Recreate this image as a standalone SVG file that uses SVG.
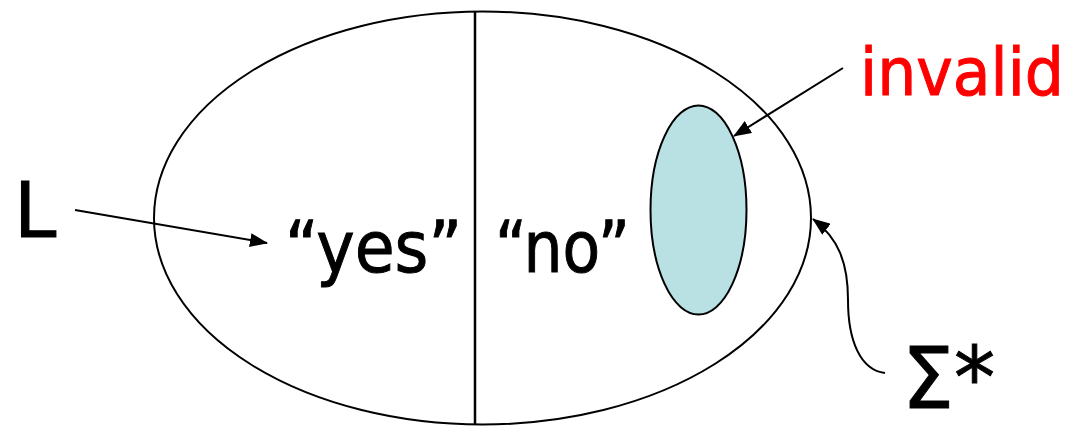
<svg xmlns="http://www.w3.org/2000/svg" width="1088" height="427" viewBox="0 0 1088 427">
<defs>
<style>
.t{font-family:"Comic Sans MS","DejaVu Sans","Liberation Sans",sans-serif;fill:#000;stroke:#000;stroke-width:1}
.red{fill:#ff0000;stroke:#ff0000}
.ln{fill:none;stroke:#000;stroke-width:2}
</style>
<marker id="ahL" markerWidth="18" markerHeight="14" refX="17" refY="7" orient="auto" markerUnits="userSpaceOnUse" viewBox="0 0 18 14">
<path d="M0,0 L18,7 L0,14 Z" fill="#000"/>
</marker>
</defs>
<rect width="1088" height="427" fill="#fff"/>
<g id="sigma-star-set">
<ellipse cx="482.5" cy="218" rx="328.5" ry="206.5" fill="none" stroke="#000" stroke-width="2"/>
<line x1="475" y1="11" x2="475" y2="425" stroke="#000" stroke-width="2.5"/>
</g>
<g id="invalid-set">
<ellipse cx="698.5" cy="210" rx="48" ry="104.5" fill="#b9e0e3" stroke="#000" stroke-width="2"/>
</g>
<g id="label-L"><text class="t" x="14" y="237" font-size="76">L</text></g>
<g id="label-yes"><text class="t" x="285" y="272" font-size="72" textLength="177" lengthAdjust="spacingAndGlyphs">“yes”</text></g>
<g id="label-no"><text class="t" x="495" y="272" font-size="72" textLength="135" lengthAdjust="spacingAndGlyphs">“no”</text></g>
<g id="label-invalid"><text class="t red" x="860" y="95" font-size="66" textLength="204" lengthAdjust="spacingAndGlyphs">invalid</text></g>
<g id="label-sigma"><text class="t" x="902" y="408" font-size="86" textLength="93" lengthAdjust="spacingAndGlyphs">Σ*</text></g>
<g id="connectors">
<line class="ln" x1="75" y1="210" x2="267" y2="243" marker-end="url(#ahL)"/>
<line class="ln" x1="843" y1="68" x2="734" y2="136" marker-end="url(#ahL)"/>
<path class="ln" d="M885,373 C860,370 848,340 848,300 C848,262 838,238 813,219" marker-end="url(#ahL)"/>
</g>
</svg>
